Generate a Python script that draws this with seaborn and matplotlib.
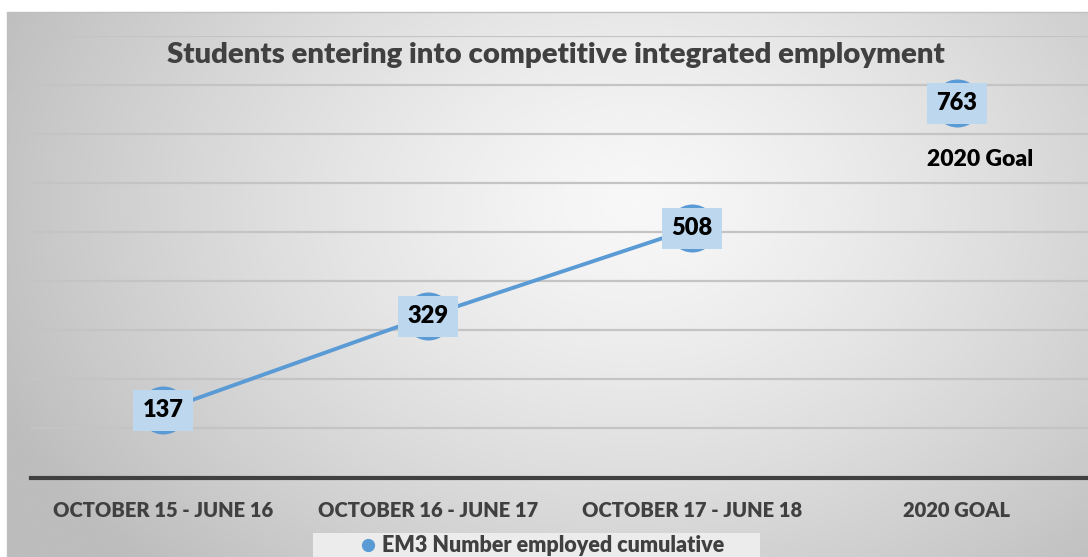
import numpy as np
import pandas as pd
import matplotlib
matplotlib.use("Agg")
import matplotlib.pyplot as plt
from matplotlib.patches import Rectangle
from matplotlib.lines import Line2D
import seaborn as sns

# Data
categories = ["OCTOBER 15 - JUNE 16", "OCTOBER 16 - JUNE 17",
              "OCTOBER 17 - JUNE 18", "2020 GOAL"]
employed = [137, 329, 508]
goal = 763
series_name = "EM3 Number employed cumulative"
title = "Students entering into competitive integrated employment"

sns.set_theme(style="white")
plt.rcParams["font.family"] = ["Lato", "DejaVu Sans"]
WEIGHT = "heavy"

W, H, DPI = 1088, 557, 100
fig = plt.figure(figsize=(W / DPI, H / DPI), dpi=DPI, facecolor="white")

# Gradient chart background (lighter towards the centre)
bg = fig.add_axes([7 / W, 0, 1 - 7 / W, 1 - 12 / H], zorder=-10)
gx, gy = np.meshgrid(np.linspace(0, 1, 400), np.linspace(0, 1, 220))
d = np.sqrt(((gx - 0.58) / 0.75) ** 2 + ((gy - 0.35) / 1.1) ** 2)
shade = np.clip(0.97 - 0.28 * d ** 1.3, 0.74, 0.97)
bg.imshow(shade, cmap="gray", vmin=0, vmax=1, aspect="auto",
          extent=[0, 1, 1, 0], interpolation="bicubic")
bg.set_axis_off()
fig.add_artist(Line2D([7 / W, 1], [1 - 12 / H] * 2, color="#c0c0c0", lw=1))
fig.add_artist(Line2D([7 / W] * 2, [0, 1 - 12 / H], color="#c0c0c0", lw=1))

ax = fig.add_axes([31 / W, 1 - 477.5 / H, (1089 - 31) / W, (477.5 - 36) / H])
ax.patch.set_alpha(0)

df = pd.DataFrame({"pos": np.arange(len(employed)), "value": employed})
df_goal = pd.DataFrame({"pos": [len(categories) - 1], "value": [goal]})

blue = "#5B9BD5"
sns.lineplot(data=df, x="pos", y="value", ax=ax, color=blue, lw=2.8,
             zorder=3, legend=False)
for d_ in (df, df_goal):
    sns.scatterplot(data=d_, x="pos", y="value", ax=ax, color=blue,
                    s=32 ** 2, marker="o", edgecolor=blue, zorder=4,
                    legend=False)

label_box = dict(boxstyle="square,pad=0.4", fc="#BDD7EE", ec="none")
for x, v in zip(np.r_[df["pos"], df_goal["pos"]], np.r_[df["value"], df_goal["value"]]):
    ax.text(x, v, f"{v}", ha="center", va="center", fontsize=17,
            fontweight=WEIGHT, color="black", bbox=label_box, zorder=5)
ax.text(df_goal["pos"][0] + 0.09, goal - 115, "2020 Goal", ha="center",
        va="center", fontsize=16.5, fontweight=WEIGHT, color="black", zorder=5)

ax.set_xlim(-0.5, len(categories) - 0.5)
ax.set_ylim(0, 900)
ax.set_yticks(np.arange(100, 901, 100))
ax.yaxis.grid(True, color="#c4c4c4", lw=1.6)
ax.set_axisbelow(True)
ax.tick_params(axis="y", left=False, labelleft=False)
ax.set_xticks(range(len(categories)))
ax.set_xticklabels(categories, fontsize=14.5, fontweight=WEIGHT, color="#404040")
ax.tick_params(axis="x", bottom=False, pad=11)
ax.set_xlabel("")
ax.set_ylabel("")
for s in ("top", "right", "left"):
    ax.spines[s].set_visible(False)
ax.spines["bottom"].set_color("#404040")
ax.spines["bottom"].set_linewidth(3)

fig.text(556 / W, 1 - 55 / H, title, ha="center", va="center", fontsize=21.2,
         fontweight=WEIGHT, color="#404040")

# Legend
fig.add_artist(Rectangle((313 / W, 0), (760 - 313) / W, (557 - 533) / H,
                         transform=fig.transFigure, fc="#ececec", ec="none",
                         zorder=1))
handle = Line2D([], [], marker="o", ls="none", color=blue, markersize=8.5)
leg = fig.legend([handle], [series_name], loc="center",
                 bbox_to_anchor=(541 / W, 1 - 546 / H), frameon=False,
                 handlelength=1.0, handletextpad=0.15,
                 prop=dict(size=15.5, weight=WEIGHT))
for t in leg.get_texts():
    t.set_color("#404040")
leg.set_zorder(2)

fig.savefig("out.png", dpi=DPI)
